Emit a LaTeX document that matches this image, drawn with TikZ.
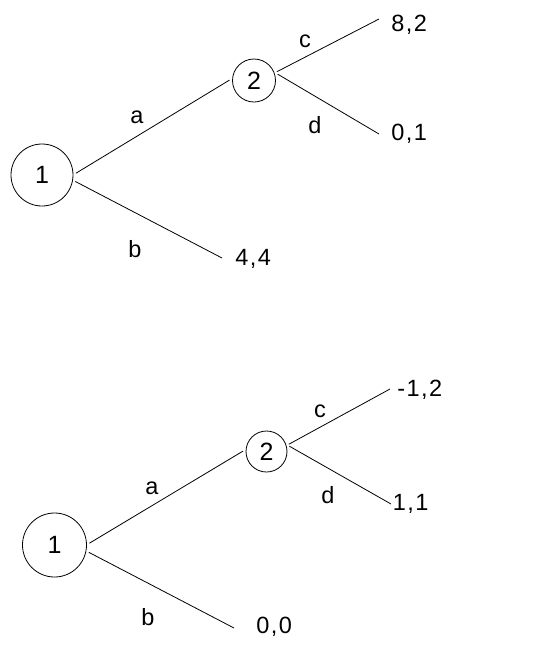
\documentclass[tikz,border=0pt]{standalone}
\usepackage{fontspec}
\setmainfont{Liberation Sans}[LetterSpace=6]
\begin{document}
\begin{tikzpicture}[x=1pt,y=-1pt,line width=0.8pt,
  player/.style={draw,circle,inner sep=0pt,outer sep=3pt,font=\fontsize{25pt}{30pt}\selectfont},
  lbl/.style={anchor=base,inner sep=0pt,font=\fontsize{23.5pt}{28pt}\selectfont},
  pay/.style={anchor=base west,inner sep=0pt,font=\fontsize{23.5pt}{28pt}\selectfont}]
\useasboundingbox[fill=white] (0,0) rectangle (557,649);
% ---- top tree ----
\node[player,minimum size=62pt] (t1) at (42,175) {1};
\node[player,minimum size=43pt] (t2) at (254,80.5) {2};
\coordinate (tc) at (379,19);
\coordinate (td) at (379,134);
\coordinate (tb) at (222,258);
\draw (t1.3.4) -- (t2.179);
\draw (t1.-11.6) -- (tb);
\draw (t2.21.6) -- (tc);
\draw (t2.15.2) -- (td);
\node[lbl] (ta) at (137,123) {a};
\node[lbl] (tlb) at (135,257) {b};
\node[lbl] (tlc) at (305,47) {c};
\node[lbl] (tld) at (315,133) {d};
\node[pay] (tp1) at (391,31) {8,2};
\node[pay] (tp2) at (391,140) {0,1};
\node[pay] (tp3) at (235,265) {4,4};
% ---- bottom tree ----
\node[player,minimum size=64pt] (b1) at (54.5,545) {1};
\node[player,minimum size=41pt] (b2) at (266.5,451.5) {2};
\coordinate (bc) at (390,389);
\coordinate (bd) at (391,504);
\coordinate (bb) at (234,628);
\draw (b1.3.5) -- (b2.179);
\draw (b1.-12) -- (bb);
\draw (b2.18.4) -- (bc);
\draw (b2.13.7) -- (bd);
\node[lbl] (ba) at (152,494) {a};
\node[lbl] (blb) at (148,625) {b};
\node[lbl] (blc) at (320,417) {c};
\node[lbl] (bld) at (328,503) {d};
\node[pay] (bp1) at (397,396) {-1,2};
\node[pay] (bp2) at (392.5,510) {1,1};
\node[pay] (bp3) at (256,633) {0,0};
\end{tikzpicture}
\end{document}
